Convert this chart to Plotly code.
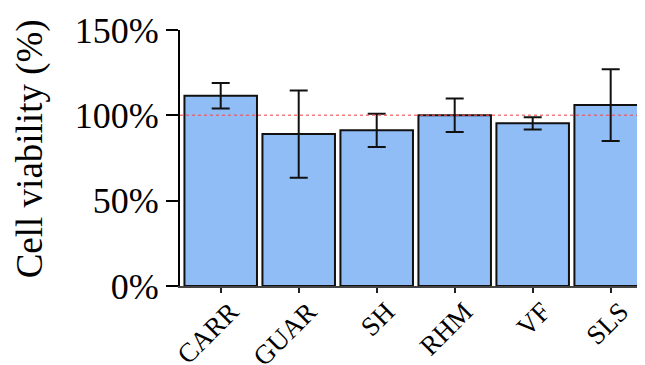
import plotly.graph_objects as go

categories = ["CARR", "GUAR", "SH", "RHM", "VF", "SLS"]
viability = [111.5, 89.0, 91.2, 100.0, 95.3, 106.0]
errors = [7.5, 25.6, 9.7, 9.8, 3.6, 21.0]
y_ticks = [0, 50, 100, 150]
y_tick_labels = ["0%", "50%", "100%", "150%"]
reference_level = 100

serif = "Times New Roman, Liberation Serif, serif"

fig = go.Figure()
fig.add_trace(go.Bar(
    x=list(range(len(categories))),
    y=viability,
    marker=dict(color="#91bdf7", line=dict(color="#111111", width=2)),
    error_y=dict(type="data", array=errors, visible=True, color="#111111",
                 thickness=2, width=9),
    cliponaxis=True,
))

fig.add_shape(type="line", xref="paper", yref="y", x0=0, x1=1,
              y0=reference_level, y1=reference_level,
              line=dict(color="rgba(240,80,80,0.75)", width=1.5, dash="dot"),
              layer="above")

fig.add_annotation(text="Cell viability (%)", xref="paper", yref="paper",
                   x=-0.322, y=0.535, xanchor="center", yanchor="middle",
                   textangle=-90, showarrow=False,
                   font=dict(family=serif, size=37, color="black"))

# page body has an 8px default margin, so the figure is offset by (8, 8)
fig.update_layout(
    width=637, height=357,
    margin=dict(l=172, r=0, t=22, b=79),
    plot_bgcolor="white", paper_bgcolor="white",
    bargap=0.07,
    showlegend=False,
    xaxis=dict(
        range=[-0.522, 5.44],
        automargin=False,
        tickmode="array", tickvals=list(range(len(categories))), ticktext=categories,
        tickangle=-45,
        ticklabelshift=10, ticklabelstandoff=-8,
        tickfont=dict(family=serif, size=27, color="black"),
        showline=True, linecolor="#444444", linewidth=2,
        ticks="outside", ticklen=5, tickwidth=2, tickcolor="#222222",
        showgrid=False, zeroline=False,
    ),
    yaxis=dict(
        range=[0, 150],
        automargin=False,
        tickmode="array", tickvals=y_ticks, ticktext=y_tick_labels,
        tickfont=dict(family=serif, size=36, color="black"),
        showline=True, linecolor="black", linewidth=2,
        ticks="outside", ticklen=12, tickwidth=2, tickcolor="black",
        showgrid=False, zeroline=False,
    ),
)

fig.write_html("out.html")
